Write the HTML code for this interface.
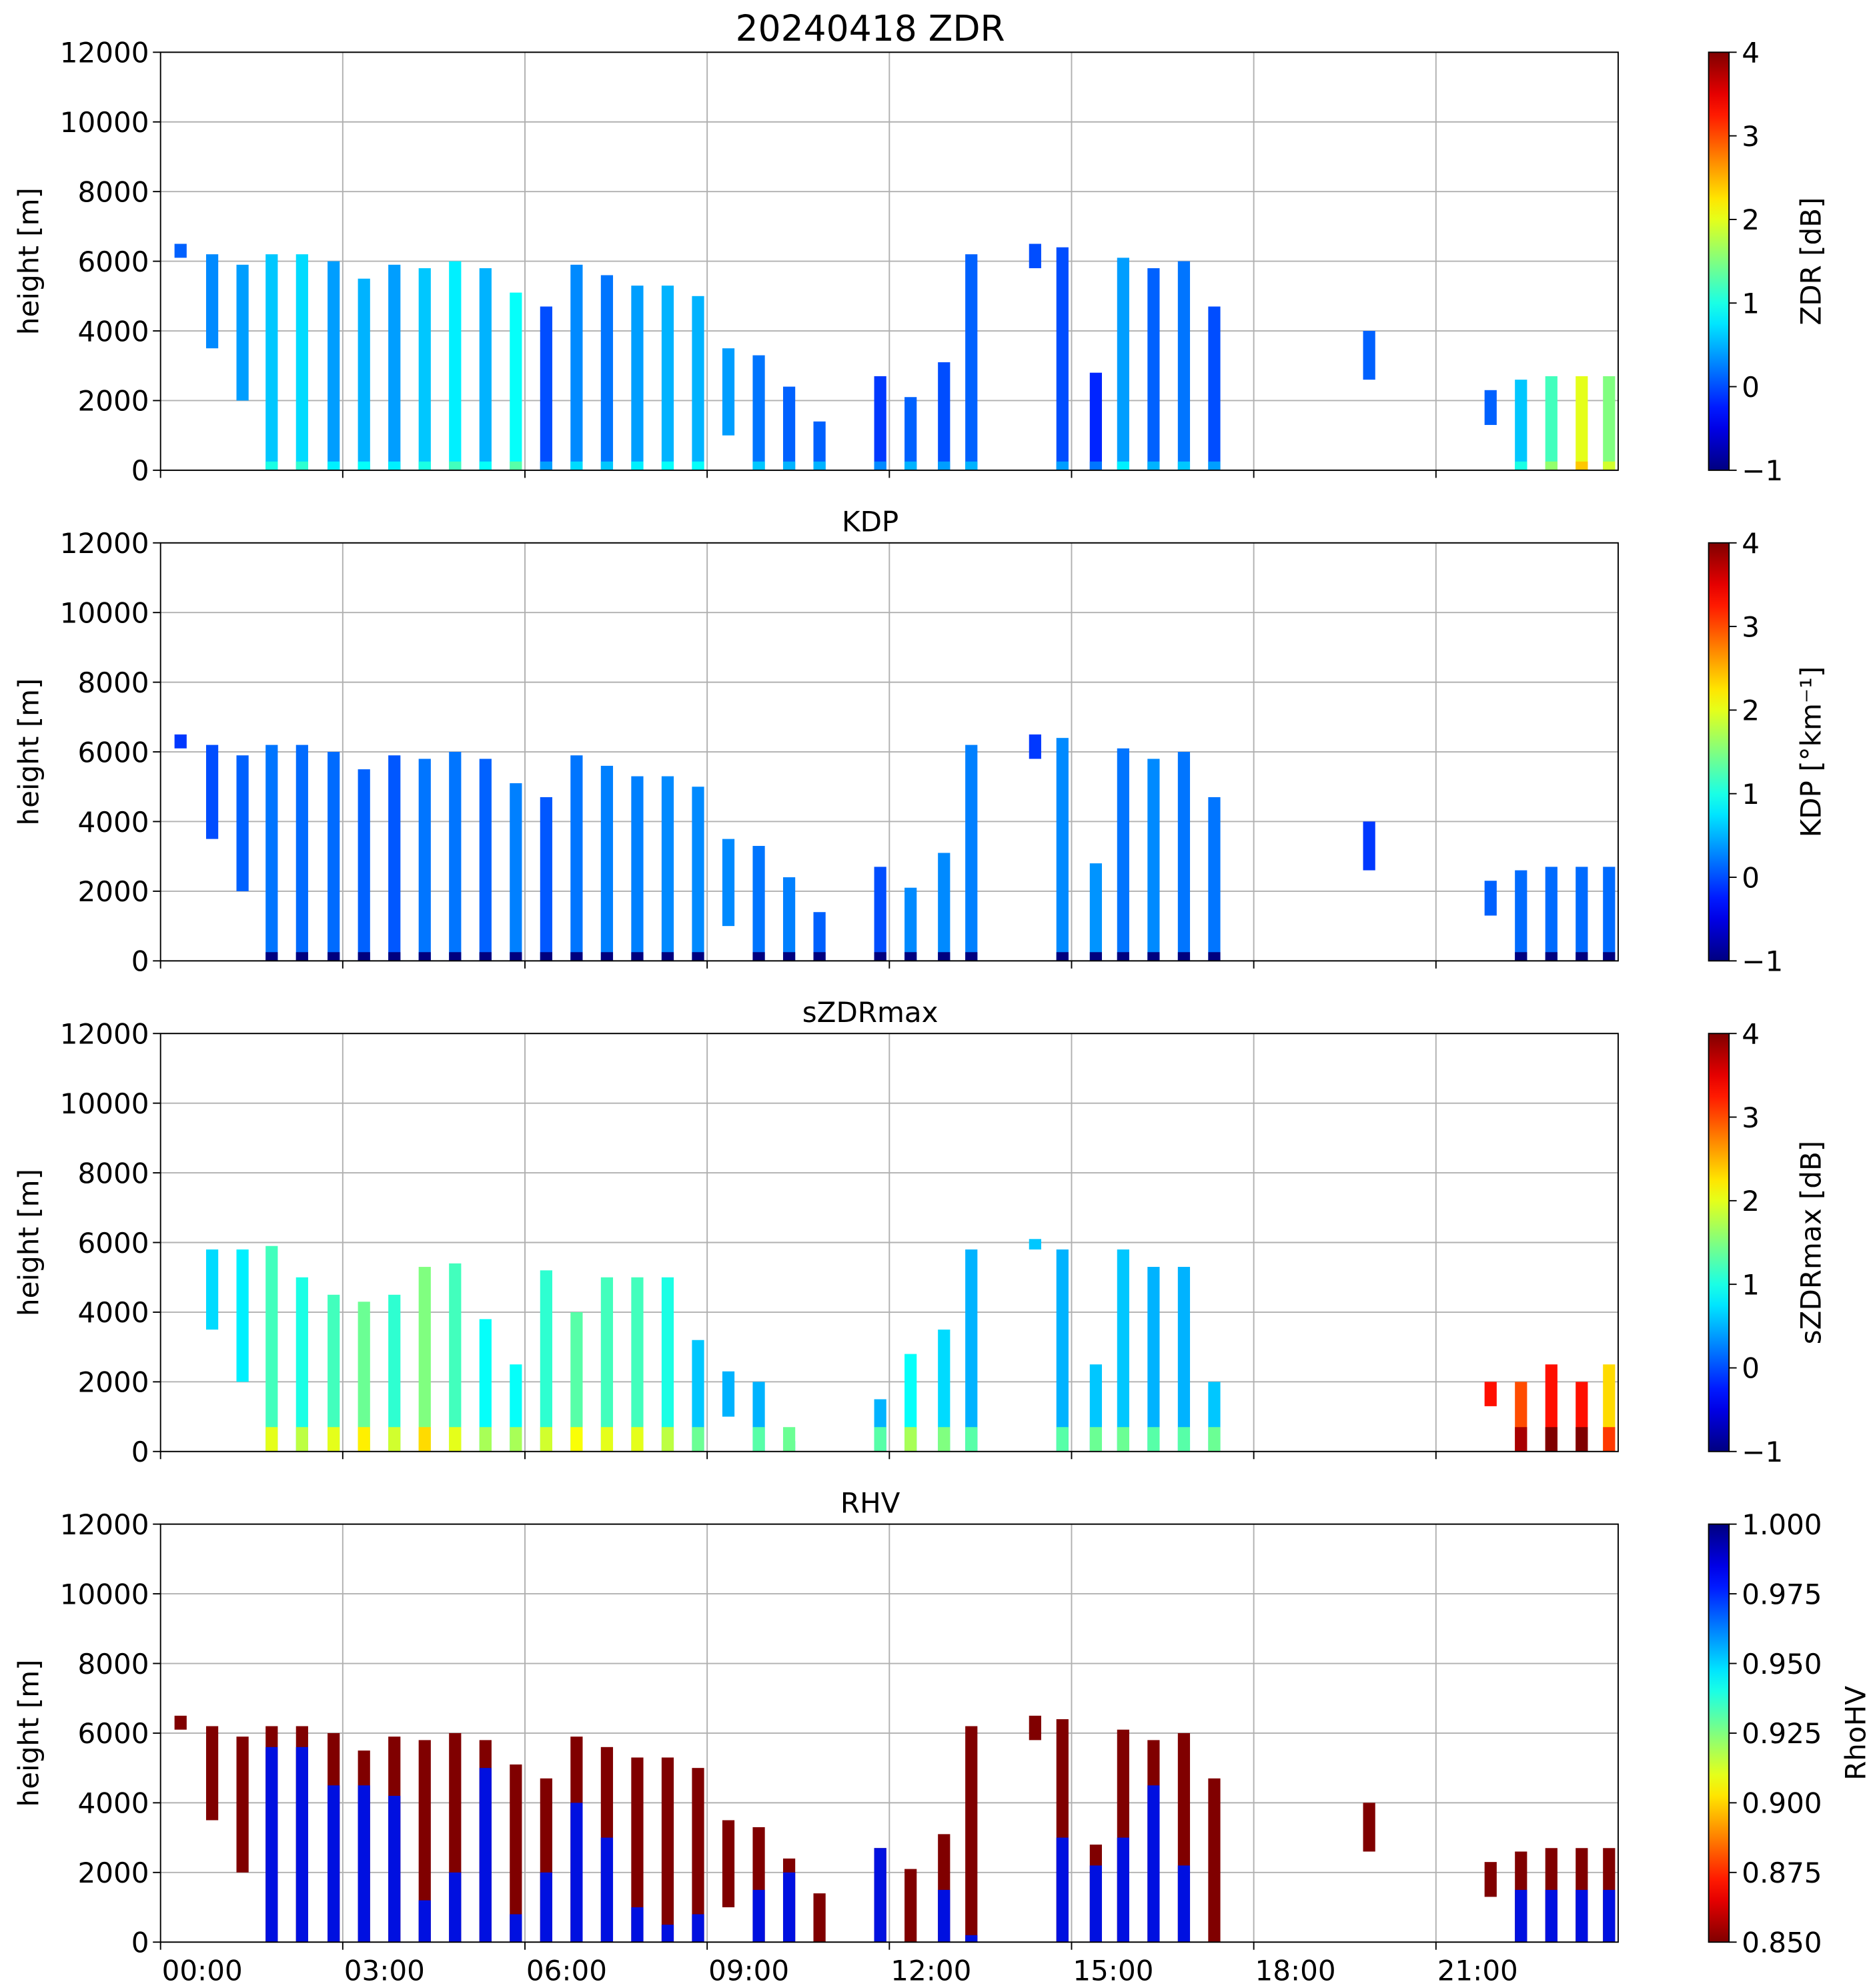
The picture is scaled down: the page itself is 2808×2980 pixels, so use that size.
<!DOCTYPE html>
<html><head><meta charset="utf-8"><style>
html,body{margin:0;padding:0;background:#fff}
svg{display:block;font-family:"DejaVu Sans","Liberation Sans",sans-serif}
</style></head><body>
<svg id="fig" width="2808" height="2980" viewBox="0 0 1470 1560" preserveAspectRatio="none" xmlns="http://www.w3.org/2000/svg"></svg>
<script>
const colStart=[0.23,0.75,1.25,1.73,2.23,2.75,3.25,3.75,4.25,4.75,5.25,5.75,6.25,6.75,7.25,7.75,8.25,8.75,9.25,9.75,10.25,10.75,11.75,12.25,12.8,13.25,14.3,14.75,15.3,15.75,16.25,16.75,17.25,19.8,21.8,22.3,22.8,23.3,23.75];
const colTop=[6500,6200,5900,6200,6200,6000,5500,5900,5800,6000,5800,5100,4700,5900,5600,5300,5300,5000,3500,3300,2400,1400,2700,2100,3100,6200,6500,6400,2800,6100,5800,6000,4700,4000,2300,2600,2700,2700,2700];
const colBottom=[6100,3500,2000,0,0,0,0,0,0,0,0,0,0,0,0,0,0,0,1000,0,0,0,0,0,0,0,5800,0,0,0,0,0,0,2600,1300,0,0,0,0];
const zdrVal=[0.1,0.3,0.4,0.6,0.7,0.4,0.5,0.4,0.6,0.8,0.5,0.9,0.0,0.3,0.2,0.4,0.5,0.5,0.4,0.2,0.1,0.1,-0.1,0.1,0.0,0.1,0.0,0.0,-0.2,0.4,0.1,0.2,0.0,0.1,0.1,0.6,1.2,2.0,1.5];
const kdpVal=[-0.1,0,0.1,0.2,0.15,0.15,0.1,0.05,0.2,0.2,0.1,0.25,0.05,0.2,0.25,0.25,0.3,0.3,0.3,0.2,0.25,0.1,0,0.3,0.3,0.25,-0.1,0.3,0.35,0.2,0.3,0.2,0.2,-0.1,0.1,0.15,0.15,0.15,0.15];
const szdrTop=[0,5800,5800,5900,5000,4500,4300,4500,5300,5400,3800,2500,5200,4000,5000,5000,5000,3200,2300,2000,300,0,1500,2800,3500,5800,6100,5800,2500,5800,5300,5300,2000,0,2000,2000,2500,2000,2500];
const szdrVal=[0,0.7,0.8,1.2,1.0,1.2,1.4,1.1,1.5,1.2,0.9,0.9,1.1,1.3,1.2,1.2,1.0,0.6,0.5,0.5,0.6,0,0.5,0.9,0.7,0.5,0.6,0.5,0.6,0.6,0.5,0.5,0.6,0,3.3,3.0,3.3,3.3,2.3];
const rhvBlueTop=[0,0,2000,5600,5600,4500,4500,4200,1200,2000,5000,800,2000,4000,3000,1000,500,800,500,1500,2000,0,2700,0,1500,200,0,3000,2200,3000,4500,2200,0,0,0,1500,1500,1500,1500];
const colWidthH=0.2;
const xTickHours=[0,3,6,9,12,15,18,21];
const xTickLabels=["00:00","03:00","06:00","09:00","12:00","15:00","18:00","21:00"];
const yTicks=[0,2000,4000,6000,8000,10000,12000];
const cbTicks=[-1,0,1,2,3,4];
const rhvTicks=[0.850,0.875,0.900,0.925,0.950,0.975,1.000];

const NS="http://www.w3.org/2000/svg";
const svg=document.getElementById('fig');
const X0=126,X1=1270,PH=328;
const panelTops=[41,426,811,1196];
function sx(h){return X0+h/24*(X1-X0);}
function sy(p,v){return panelTops[p]+PH-v/12000*PH;}
function cl(v){return Math.max(0,Math.min(1,v));}
function jet(t){t=cl(t);const r=cl(1.5-Math.abs(4*t-3)),g=cl(1.5-Math.abs(4*t-2)),b=cl(1.5-Math.abs(4*t-1));
return `rgb(${Math.round(r*255)},${Math.round(g*255)},${Math.round(b*255)})`;}
function el(tag,attrs,parent){const e=document.createElementNS(NS,tag);for(const k in attrs)e.setAttribute(k,attrs[k]);(parent||svg).appendChild(e);return e;}
function txt(s,attrs,parent){const e=el('text',attrs,parent);e.textContent=s;return e;}

const defs=el('defs',{});
const g1=el('linearGradient',{id:'jetg',x1:0,y1:1,x2:0,y2:0},defs);
const g2=el('linearGradient',{id:'jetr',x1:0,y1:0,x2:0,y2:1},defs);
for(let i=0;i<=20;i++){el('stop',{offset:i/20,'stop-color':jet(i/20)},g1);el('stop',{offset:i/20,'stop-color':jet(i/20)},g2);}

const titles=["20240418 ZDR","KDP","sZDRmax","RHV"];
const cbLabels=["ZDR [dB]","KDP [°km⁻¹]","sZDRmax [dB]","RhoHV"];
const panelNames=["zdr","kdp","szdrmax","rhv"];

for(let p=0;p<4;p++){
  const T=panelTops[p];
  const g=el('g',{});
  
  
  for(const h of xTickHours.slice(1)){
    const l=el('line',{x1:sx(h),x2:sx(h),y1:T,y2:T+PH,stroke:'#b0b0b0','stroke-width':1},g);
    
  }
  for(const v of yTicks){
    const l=el('line',{x1:X0,x2:X1,y1:sy(p,v),y2:sy(p,v),stroke:'#b0b0b0','stroke-width':1},g);
    
  }
  for(let i=0;i<colStart.length;i++){
    const x=sx(colStart[i]),w=sx(colStart[i]+colWidthH)-x;
    if(p===0||p===1){
      const v=p===0?zdrVal[i]:kdpVal[i];
      const r=el('rect',{x:x,y:sy(p,colTop[i]),width:w,height:sy(p,colBottom[i])-sy(p,colTop[i]),fill:jet((v+1)/5)},g);
      
      if(colBottom[i]===0&&i>=3){
        const b=el('rect',{x:x,y:sy(p,250),width:w,height:sy(p,0)-sy(p,250),fill:p===1?'#00007f':jet((v+1.4)/5)},g);
        
      }
    } else if(p===2){
      if(szdrTop[i]<=0)continue;
      const bot=colBottom[i]>0?Math.min(colBottom[i],szdrTop[i]-300):0;
      const r=el('rect',{x:x,y:sy(p,szdrTop[i]),width:w,height:sy(p,bot)-sy(p,szdrTop[i]),fill:jet((szdrVal[i]+1)/5)},g);
      
      if(bot===0){
        const b=el('rect',{x:x,y:sy(p,700),width:w,height:sy(p,0)-sy(p,700),fill:jet((szdrVal[i]+1.8)/5)},g);
        
      }
    } else {
      const r=el('rect',{x:x,y:sy(p,colTop[i]),width:w,height:sy(p,colBottom[i])-sy(p,colTop[i]),fill:'#800000'},g);
      
      if(rhvBlueTop[i]>colBottom[i]){
        const b=el('rect',{x:x,y:sy(p,rhvBlueTop[i]),width:w,height:sy(p,colBottom[i])-sy(p,rhvBlueTop[i]),fill:'#0010e0'},g);
        
      }
    }
  }
  const fr=el('rect',{x:X0,y:T,width:X1-X0,height:PH,fill:'none',stroke:'#000','stroke-width':1},g);
  
  for(const v of yTicks){
    el('line',{x1:X0-6,x2:X0,y1:sy(p,v),y2:sy(p,v),stroke:'#000','stroke-width':1},g);
    const t=txt(String(v),{x:X0-9,y:sy(p,v)+8,'text-anchor':'end','font-size':22},g);
    
  }
  for(const h of xTickHours){
    el('line',{x1:sx(h),x2:sx(h),y1:T+PH,y2:T+PH+6,stroke:'#000','stroke-width':1},g);
  }
  const yl=txt('height [m]',{x:0,y:0,'font-size':22,'text-anchor':'middle',transform:`translate(30,${T+PH/2}) rotate(-90)`},g);
  
  const tt=txt(titles[p],{x:(X0+X1)/2-15,y:T-9,'font-size':p===0?28:22,'text-anchor':'middle'},g);
  
  const cb=el('rect',{x:1341,y:T,width:16,height:PH,fill:p===3?'url(#jetr)':'url(#jetg)',stroke:'#000','stroke-width':1},g);
  
  const ticks=p===3?rhvTicks:cbTicks;
  for(const v of ticks){
    const y=p===3?T+PH-(v-0.85)/0.15*PH:T+PH-(v+1)/5*PH;
    el('line',{x1:1357,x2:1363,y1:y,y2:y,stroke:'#000','stroke-width':1},g);
    const s=p===3?v.toFixed(3):(v<0?'−'+Math.abs(v):String(v));
    const t=txt(s,{x:1367,y:y+8,'font-size':22},g);
    
  }
  const cl2=txt(cbLabels[p],{x:0,y:0,'font-size':22,'text-anchor':'middle',transform:`translate(${p===3?1464:1429},${T+PH/2}) rotate(-90)`},g);
  
}
for(let i=0;i<xTickHours.length;i++){
  const t=txt(xTickLabels[i],{x:sx(xTickHours[i])+1,y:1554,'font-size':22});
  
  
}
</script>
</body></html>
